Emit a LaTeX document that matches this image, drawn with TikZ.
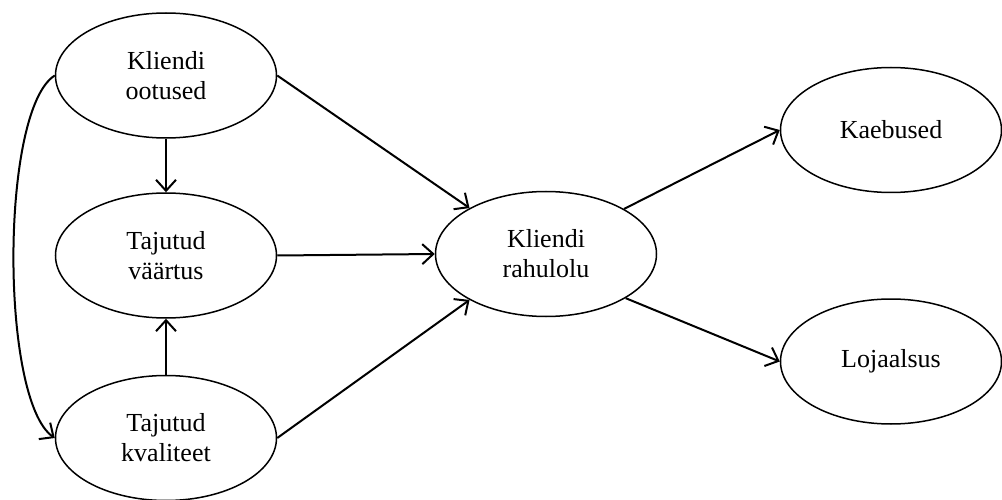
\documentclass[tikz,border=0pt]{standalone}
\usepackage{fontspec}
\setmainfont{Liberation Serif}
\usetikzlibrary{shapes.geometric,arrows.meta}
\begin{document}
\begin{tikzpicture}[x=1pt,y=-1pt,
  factor/.style={ellipse,draw,line width=1.5pt,minimum width=221pt,minimum height=125pt,
    inner sep=0pt,align=center,font=\fontsize{26}{30}\selectfont},
  link/.style={line width=2pt,-{Straight Barb[length=11pt,width=20pt,line width=2pt]}}]
\useasboundingbox (0,0) rectangle (1002,500);
\node[factor] (oo) at (166,75.5) {Kliendi\\ootused};
\node[factor] (va) at (166,255.5) {Tajutud\\väärtus};
\node[factor] (kv) at (166,438) {Tajutud\\kvaliteet};
\node[factor] (ra) at (546,254) {Kliendi\\rahulolu};
\node[factor] (ka) at (891,130) {Kaebused};
\node[factor] (lo) at (891,361.5) {Lojaalsus};
% links between the factors
\draw[link] (oo.south) -- (va.north);
\draw[link] (kv.north) -- (va.south);
\draw[link] (oo.east) -- (ra.149);
\draw[link] (va.east) -- (ra.west);
\draw[link] (kv.east) -- (ra.211);
\draw[link] (ra.30) -- (ka.west);
\draw[link] (ra.331) -- (lo.west);
\draw[link] (oo.west) .. controls (0,110) and (0,400) .. (kv.west);
\end{tikzpicture}
\end{document}
